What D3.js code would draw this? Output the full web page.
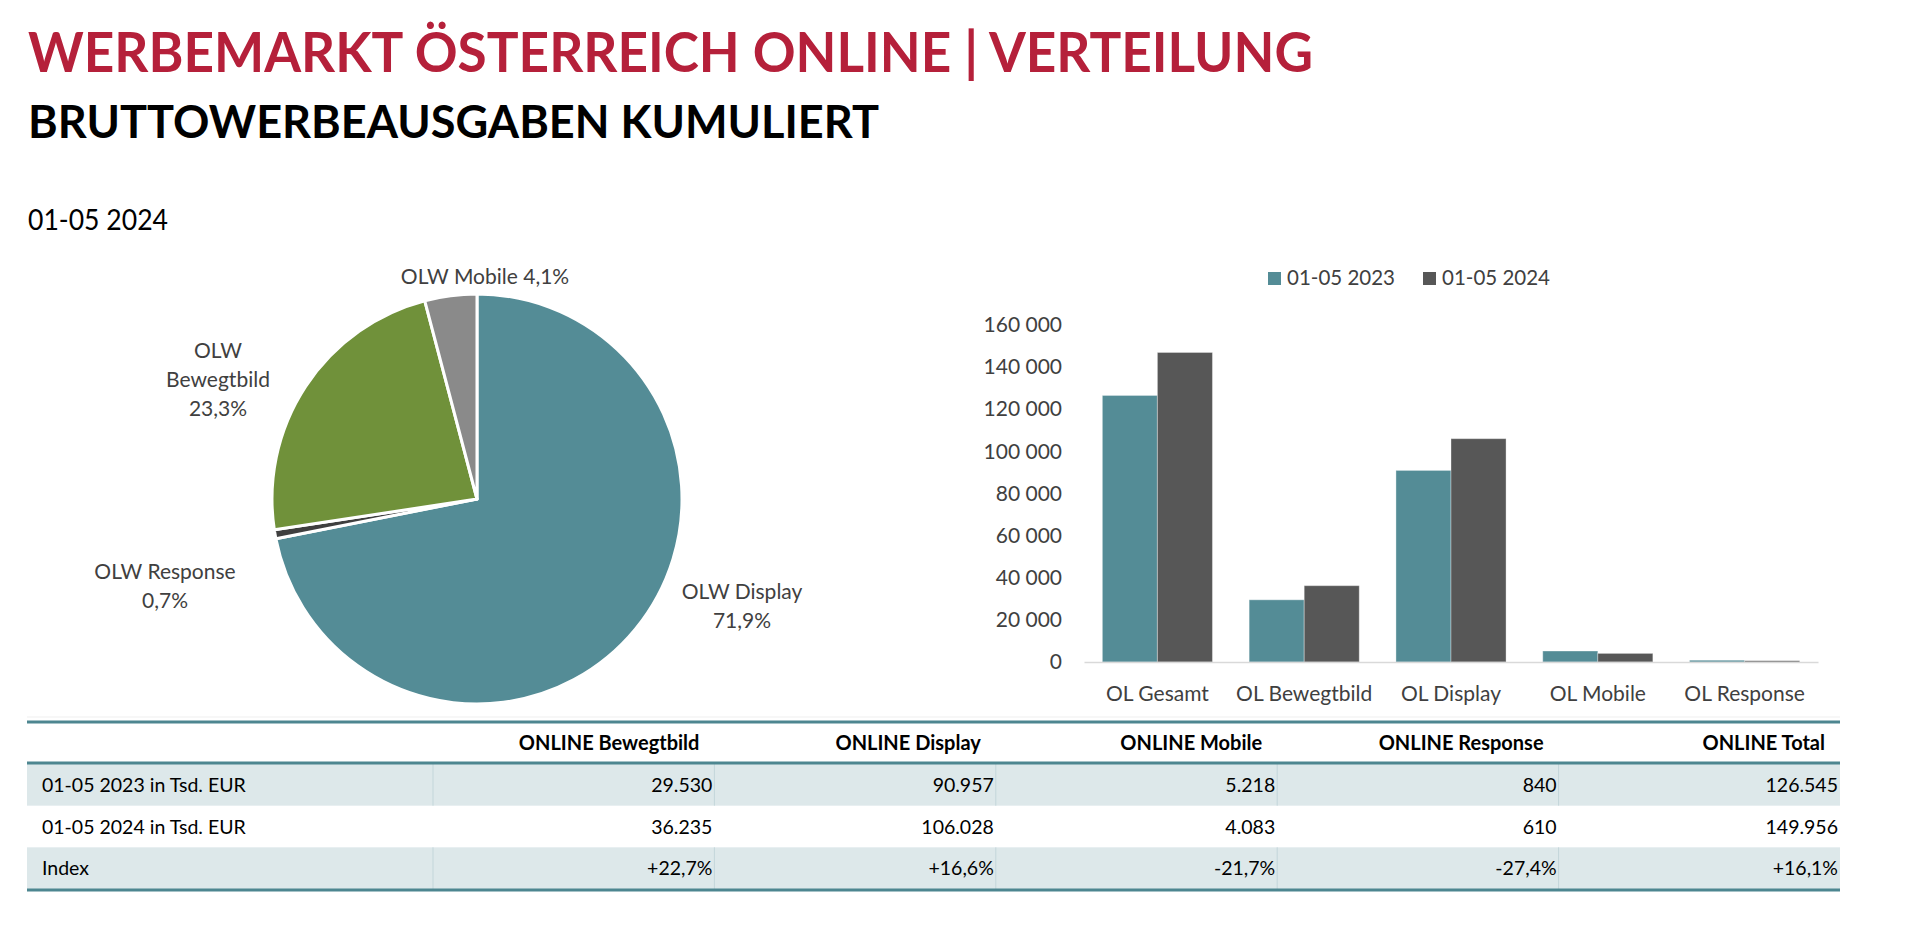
<!DOCTYPE html>
<html>
<head>
<meta charset="utf-8">
<script src="https://cdn.jsdelivr.net/npm/d3@7/dist/d3.min.js"></script>
<style>
  html, body { margin: 0; padding: 0; background: #ffffff; }
  svg { display: block; font-family: Lato, "Open Sans", sans-serif; }
</style>
</head>
<body>
<svg id="chart" width="1920" height="936"></svg>
<script>
// ---------------- DATA ----------------
const titleText = "WERBEMARKT ÖSTERREICH ONLINE | VERTEILUNG";
const subtitleText = "BRUTTOWERBEAUSGABEN KUMULIERT";
const periodText = "01-05 2024";

// Pie (share of 01-05 2024)
const pieCategories = ["OLW Display", "OLW Response", "OLW Bewegtbild", "OLW Mobile"];
const pieShares = [71.9, 0.7, 23.3, 4.1];
const pieShareLabels = ["71,9%", "0,7%", "23,3%", "4,1%"];

// Bar chart
const barCategories = ["OL Gesamt", "OL Bewegtbild", "OL Display", "OL Mobile", "OL Response"];
const seriesNames = ["01-05 2023", "01-05 2024"];
const values2023 = [126545, 29530, 90957, 5218, 840];
const values2024 = [146956, 36235, 106028, 4083, 610];
const yTicks = [0, 20000, 40000, 60000, 80000, 100000, 120000, 140000, 160000];

// Table
const tableHeaders = ["ONLINE Bewegtbild", "ONLINE Display", "ONLINE Mobile", "ONLINE Response", "ONLINE Total"];
const tableRowLabels = ["01-05 2023 in Tsd. EUR", "01-05 2024 in Tsd. EUR", "Index"];
const table2023 = [29530, 90957, 5218, 840, 126545];
const table2024 = [36235, 106028, 4083, 610, 149956];
const tableIndex = ["+22,7%", "+16,6%", "-21,7%", "-27,4%", "+16,1%"];

// ---------------- STYLE ----------------
const C = {
  red: "#b5203a",
  teal: "#548c96",
  dark: "#575757",
  green: "#70913a",
  gray: "#8a8a8a",
  resp: "#3f3f3f",
  text: "#404040",
  line: "#4d8690",
  shade: "#dde8ea",
  vline: "#c3d6da",
  axis: "#d9d9d9"
};
const svg = d3.select("#chart");

// ---------------- TITLES ----------------
svg.append("text").attr("x", 28).attr("y", 72)
  .attr("font-size", 56).attr("font-weight", 700).attr("fill", C.red)
  .attr("textLength", 1285).attr("lengthAdjust", "spacingAndGlyphs")
  .text(titleText);
svg.append("text").attr("x", 28).attr("y", 138)
  .attr("font-size", 46).attr("font-weight", 700).attr("fill", "#000")
  .attr("textLength", 851).attr("lengthAdjust", "spacingAndGlyphs")
  .text(subtitleText);
svg.append("text").attr("x", 28).attr("y", 230)
  .attr("font-size", 29).attr("fill", "#000")
  .attr("textLength", 140).attr("lengthAdjust", "spacingAndGlyphs")
  .text(periodText);

// ---------------- PIE ----------------
const pieCx = 477, pieCy = 499, pieR = 205;
const pieColors = [C.teal, C.resp, C.green, C.gray];
const pieGen = d3.pie().sort(null).value(d => d)(pieShares);
const arcGen = d3.arc().innerRadius(0).outerRadius(pieR);
const gPie = svg.append("g").attr("transform", `translate(${pieCx},${pieCy})`);
gPie.selectAll("path").data(pieGen).join("path")
  .attr("d", arcGen)
  .attr("fill", (d, i) => pieColors[i])
  .attr("stroke", "#fff").attr("stroke-width", 3).attr("stroke-linejoin", "round");

// label placement (offsets from pie centre, like Excel best-fit)
const pieLabelLayout = [
  { dx: 265, dy: 100, lines: () => [pieCategories[0], pieShareLabels[0]] },
  { dx: -312, dy: 80, lines: () => [pieCategories[1], pieShareLabels[1]] },
  { dx: -259, dy: -141, lines: () => ["OLW", "Bewegtbild", pieShareLabels[2]] },
  { dx: 8, dy: -215, lines: () => [pieCategories[3] + " " + pieShareLabels[3]] }
];
pieLabelLayout.forEach((L) => {
  const t = gPie.append("text")
    .attr("x", L.dx).attr("y", L.dy)
    .attr("text-anchor", "middle").attr("font-size", 21).attr("fill", C.text);
  L.lines().forEach((s, k) => {
    t.append("tspan").attr("x", L.dx).attr("dy", k === 0 ? 0 : 29).text(s);
  });
});

// ---------------- BAR CHART ----------------
const bx0 = 1084, bx1 = 1818, by0 = 662, by1 = 325;
const x = d3.scaleBand().domain(barCategories).range([bx0, bx1]).paddingInner(0.25).paddingOuter(0.125);
const xs = d3.scaleBand().domain(seriesNames).range([0, x.bandwidth()]);
const y = d3.scaleLinear().domain([0, 160000]).range([by0, by1]);
const fmtSpace = d3.formatLocale({ decimal: ",", thousands: " ", grouping: [3], currency: ["", ""] }).format(",d");
const fmtDot = d3.formatLocale({ decimal: ",", thousands: ".", grouping: [3], currency: ["", ""] }).format(",d");

const yAxis = svg.append("g").attr("transform", `translate(${bx0},0)`)
  .call(d3.axisLeft(y).tickValues(yTicks).tickFormat(fmtSpace).tickSize(0).tickPadding(22));
yAxis.select(".domain").remove();
yAxis.selectAll("text").attr("font-size", 21).attr("fill", C.text).attr("font-family", "Lato, sans-serif");

const seriesData = [values2023, values2024];
const seriesColors = [C.teal, C.dark];
seriesNames.forEach((s, si) => {
  svg.append("g").selectAll("rect").data(barCategories).join("rect")
    .attr("x", c => x(c) + xs(s))
    .attr("width", xs.bandwidth())
    .attr("y", (c, i) => y(seriesData[si][i]))
    .attr("height", (c, i) => by0 - y(seriesData[si][i]))
    .attr("fill", seriesColors[si])
    .attr("stroke", "rgba(255,255,255,0.35)").attr("stroke-width", 1);
});

const xAxis = svg.append("g").attr("transform", `translate(0,${by0})`)
  .call(d3.axisBottom(x).tickSize(0).tickPadding(24));
xAxis.select(".domain").attr("stroke", C.axis).attr("stroke-width", 1.5);
xAxis.selectAll("text").attr("font-size", 21).attr("fill", C.text).attr("font-family", "Lato, sans-serif");

// legend
const legendPos = [1268, 1423];
seriesNames.forEach((s, i) => {
  svg.append("rect").attr("x", legendPos[i]).attr("y", 272).attr("width", 13).attr("height", 13).attr("fill", seriesColors[i]);
  svg.append("text").attr("x", legendPos[i] + 19).attr("y", 285)
    .attr("font-size", 20.5).attr("fill", C.text).text(s);
});

// faint chart-object border line
svg.append("line").attr("x1", 27).attr("x2", 1840).attr("y1", 717).attr("y2", 717)
  .attr("stroke", "#efefef").attr("stroke-width", 1);

// ---------------- TABLE ----------------
const tX0 = 27, tLabelEnd = 433, tX1 = 1840;
const colX = d3.scaleBand().domain(tableHeaders).range([tLabelEnd, tX1]);
const rowY = d3.scaleBand().domain(tableRowLabels).range([764, 889]);
const headerTop = 722, headerBottom = 763;
const rowValues = [table2023.map(fmtDot), table2024.map(fmtDot), tableIndex];
const shaded = [true, false, true];

const gT = svg.append("g").attr("font-size", 19.5).attr("fill", "#000");
tableRowLabels.forEach((r, ri) => {
  if (shaded[ri]) {
    gT.append("rect").attr("x", tX0).attr("y", rowY(r)).attr("width", tX1 - tX0).attr("height", rowY.bandwidth())
      .attr("fill", C.shade);
    [tLabelEnd].concat(tableHeaders.slice(1).map(h => colX(h))).forEach(xx => {
      gT.append("line").attr("x1", xx).attr("x2", xx).attr("y1", rowY(r)).attr("y2", rowY(r) + rowY.bandwidth())
        .attr("stroke", C.vline).attr("stroke-width", 1);
    });
  }
  gT.append("text").attr("x", 42).attr("y", rowY(r) + rowY.bandwidth() / 2 + 7).text(r);
  tableHeaders.forEach((h, ci) => {
    gT.append("text").attr("x", colX(h) + colX.bandwidth() - 2).attr("y", rowY(r) + rowY.bandwidth() / 2 + 7)
      .attr("text-anchor", "end").text(rowValues[ri][ci]);
  });
});
tableHeaders.forEach(h => {
  gT.append("text").attr("x", colX(h) + colX.bandwidth() - 15).attr("y", (headerTop + headerBottom) / 2 + 7)
    .attr("text-anchor", "end").attr("font-weight", 700).attr("font-size", 20).text(h);
});
[headerTop, headerBottom, 890].forEach(yy => {
  gT.append("line").attr("x1", tX0).attr("x2", tX1).attr("y1", yy).attr("y2", yy)
    .attr("stroke", C.line).attr("stroke-width", 3);
});
</script>
</body>
</html>
